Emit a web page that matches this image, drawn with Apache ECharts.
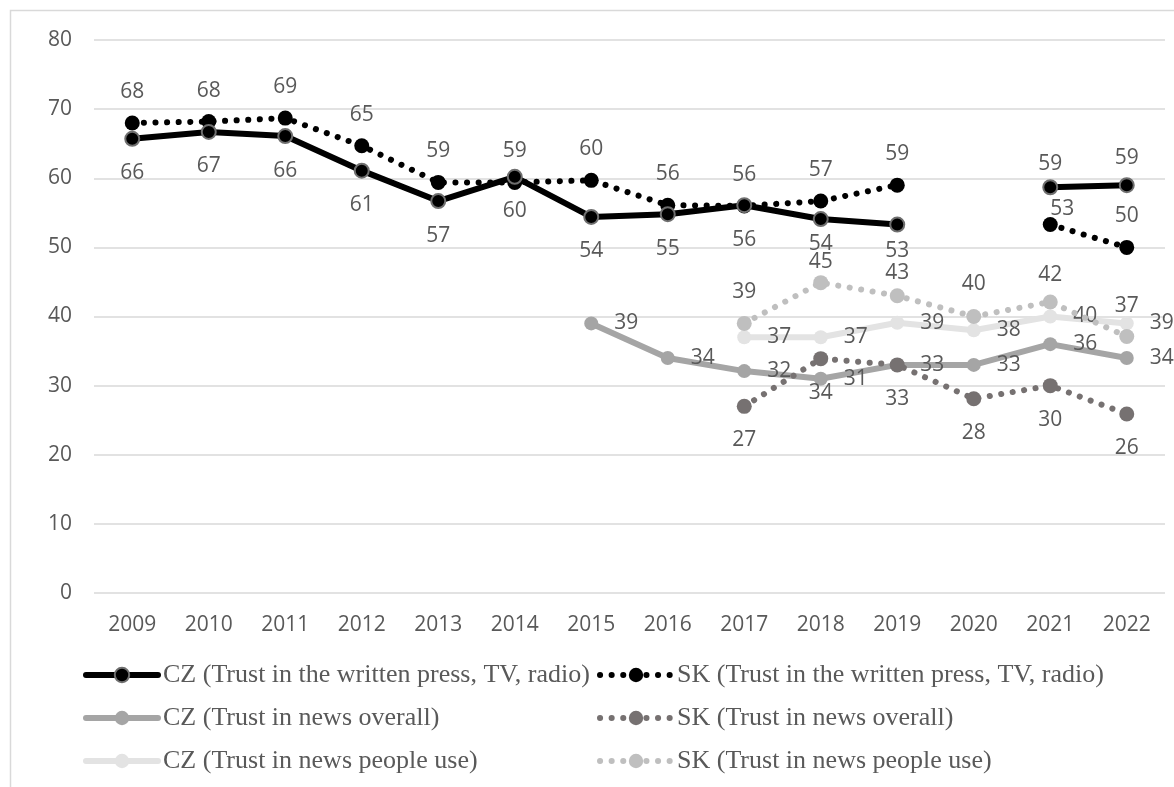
<!DOCTYPE html>
<html>
<head>
<meta charset="utf-8">
<script src="https://cdn.jsdelivr.net/npm/echarts@6/dist/echarts.min.js"></script>
<style>
  html, body { margin: 0; padding: 0; background: #fff; }
  #chart { width: 1174px; height: 787px; }
</style>
</head>
<body>
<div id="chart"></div>
<script>
const years = ['2009', '2010', '2011', '2012', '2013', '2014', '2015', '2016', '2017', '2018', '2019', '2020', '2021', '2022'];
const yTicks = [0, 10, 20, 30, 40, 50, 60, 70, 80];

const czPress = [65.7, 66.7, 66.1, 61.1, 56.7, 60.2, 54.4, 54.8, 56.1, 54.1, 53.3, null, 58.7, 59.0];
const skPress = [68.0, 68.2, 68.7, 64.7, 59.4, 59.4, 59.7, 56.1, 56.0, 56.7, 59.0, null, 53.3, 50.0];
const czOverall = [null, null, null, null, null, null, 39.0, 34.0, 32.1, 31.0, 33.0, 33.0, 36.0, 34.0];
const skOverall = [null, null, null, null, null, null, null, null, 27.0, 33.9, 33.0, 28.1, 30.0, 25.9];
const czUse = [null, null, null, null, null, null, null, null, 37.0, 37.0, 39.1, 38.0, 40.0, 39.0];
const skUse = [null, null, null, null, null, null, null, null, 39.0, 44.9, 43.0, 40.0, 42.1, 37.1];

const names = {
    czPress: 'CZ (Trust in the written press, TV, radio)',
    skPress: 'SK (Trust in the written press, TV, radio)',
    czOverall: 'CZ (Trust in news overall)',
    skOverall: 'SK (Trust in news overall)',
    czUse: 'CZ (Trust in news people use)',
    skUse: 'SK (Trust in news people use)'
};

const sansFont = '"Open Sans", "Noto Sans", sans-serif';
const serifFont = '"Liberation Serif", "DejaVu Serif", serif';
const textGrey = '#595959';
const dots = [0.1, 11.5];

// label placement tweaks where the original moved labels by hand
const labelTweaks = {
    czPress: { 9: { distance: 6 }, 10: { distance: 8 }, 12: { position: 'top', distance: 5 }, 13: { position: 'top', distance: 9 } },
    skPress: { 12: { distance: 0, offset: [12, 2] } },
    skUse: { 9: { distance: 3 }, 10: { distance: 5 }, 11: { distance: 14 }, 12: { distance: 9 } }
};

function makeData(key, values) {
    const tw = labelTweaks[key] || {};
    return values.map((v, i) => {
        if (v === null) return null;
        return tw[i] ? { value: v, label: tw[i] } : v;
    });
}

function makeSeries(key, values, o) {
    return {
        name: names[key],
        type: 'line',
        data: makeData(key, values),
        symbol: 'circle',
        symbolSize: o.size,
        z: o.z,
        lineStyle: { color: o.color, width: 6, type: o.dotted ? dots : 'solid', cap: 'round', join: 'round' },
        itemStyle: { color: o.color, borderColor: o.border || o.color, borderWidth: o.border ? 2 : 0 },
        label: {
            show: true,
            position: o.pos,
            distance: o.dist,
            color: textGrey,
            fontFamily: sansFont,
            fontSize: 21,
            formatter: p => Math.round(p.value)
        }
    };
}

const series = [
    makeSeries('skPress', skPress, { color: '#000000', size: 15, dotted: true, pos: 'top', dist: 13, z: 2 }),
    makeSeries('czPress', czPress, { color: '#000000', border: '#6f6f6f', size: 14, pos: 'bottom', dist: 16, z: 3 }),
    makeSeries('czOverall', czOverall, { color: '#a5a5a5', size: 14, pos: 'right', dist: 16, z: 4 }),
    makeSeries('skOverall', skOverall, { color: '#767171', size: 15, dotted: true, pos: 'bottom', dist: 16, z: 5 }),
    makeSeries('czUse', czUse, { color: '#e3e3e3', size: 14, pos: 'right', dist: 16, z: 6 }),
    makeSeries('skUse', skUse, { color: '#bfbfbf', size: 15, dotted: true, pos: 'top', dist: 13, z: 7 })
];

const legendBase = {
    orient: 'vertical',
    top: 657,
    itemWidth: 72,
    itemHeight: 18,
    itemGap: 17,
    selectedMode: false,
    lineStyle: { width: 'inherit' },
    textStyle: { fontFamily: serifFont, fontSize: 26, lineHeight: 26, color: textGrey }
};

const chart = echarts.init(document.getElementById('chart'));
chart.setOption({
    animation: false,
    backgroundColor: '#ffffff',
    graphic: [{
        type: 'rect',
        shape: { x: 10.5, y: 10.5, width: 1300, height: 900 },
        style: { fill: 'none', stroke: '#d9d9d9', lineWidth: 1.5 },
        z: -1
    }],
    grid: { left: 94, right: 9, top: 40, bottom: 194 },
    legend: [
        Object.assign({}, legendBase, { left: 78, data: [names.czPress, names.czOverall, names.czUse] }),
        Object.assign({}, legendBase, { left: 592, data: [names.skPress, names.skOverall, names.skUse] })
    ],
    xAxis: {
        type: 'category',
        data: years,
        boundaryGap: true,
        axisLine: { show: false },
        axisTick: { show: false },
        axisLabel: { color: textGrey, fontFamily: sansFont, fontSize: 21, margin: 22 }
    },
    yAxis: {
        type: 'value',
        min: yTicks[0],
        max: yTicks[yTicks.length - 1],
        interval: 10,
        axisLine: { show: false },
        axisTick: { show: false },
        splitLine: { lineStyle: { color: '#d9d9d9', width: 1.5 } },
        axisLabel: { color: textGrey, fontFamily: sansFont, fontSize: 21, margin: 22 }
    },
    series: series
});
</script>
</body>
</html>
